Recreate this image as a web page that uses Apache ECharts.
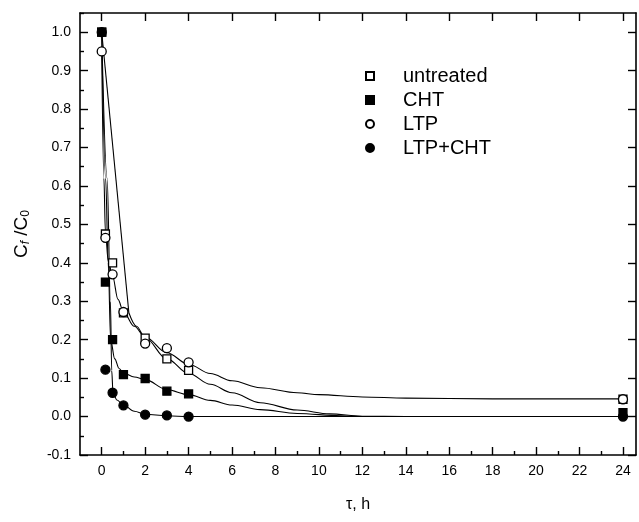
<!DOCTYPE html>
<html>
<head>
<meta charset="utf-8">
<script src="https://cdn.jsdelivr.net/npm/echarts@6/dist/echarts.min.js"></script>
<style>html,body{margin:0;padding:0;background:#fff;}#c{width:639px;height:522px;}</style>
</head>
<body>
<div id="c"></div>
<script>
// measured times (h)
var times = [0, 0.17, 0.5, 1, 2, 3, 4, 24];
// Cf/C0 data points
var untreated = [1.0, 0.475, 0.40, 0.27, 0.204, 0.15, 0.12, 0.045];
var cht       = [1.0, 0.35, 0.20, 0.109, 0.099, 0.066, 0.059, 0.01];
var ltp       = [0.95, 0.465, 0.37, 0.272, 0.19, 0.178, 0.141, 0.045];
var ltpCht    = [1.0, 0.122, 0.062, 0.029, 0.005, 0.003, 0.0, 0.0];

// fitted curves [t, value]
var fitUntreatedSteep = [[0,1.0],[1.25,0.27]];
var fitUntreated = [[1.25,0.27],[1.6,0.235],[2,0.205],[3,0.15],[4,0.112],[5,0.084],[6,0.062],[7.3,0.036],[9,0.017],[10.5,0.007],[12,0.001],[14,0],[24,0]];
var fitLtp = [[0,0.95],[0.1,0.62],[0.17,0.48],[0.3,0.405],[0.5,0.365],[0.75,0.305],[1,0.272],[1.5,0.235],[2,0.207],[3,0.166],[4,0.136],[5,0.112],[6,0.093],[7.3,0.075],[9,0.062],[10,0.057],[12,0.051],[14,0.048],[18,0.046],[24,0.046]];
var fitCht = [[0,1.0],[0.18,0.62],[0.3,0.4],[0.41,0.2],[0.6,0.15],[0.8,0.125],[1,0.113],[1.5,0.103],[2,0.096],[3,0.07],[4,0.057],[5,0.042],[6,0.03],[7.3,0.018],[9,0.008],[11,0.002],[12,0],[24,0]];
var fitLtpCht = [[0,1.0],[0.25,0.62],[0.4,0.3],[0.46,0.12],[0.52,0.062],[0.7,0.043],[1,0.03],[1.5,0.014],[2,0.006],[3,0.002],[4,0.0],[24,0]];

// tick values
var xMajor = [0,2,4,6,8,10,12,14,16,18,20,22,24];
var xMinor = [1,3,5,7,9,11,13,15,17,19,21,23];
var yMajor = [-0.1,0,0.1,0.2,0.3,0.4,0.5,0.6,0.7,0.8,0.9,1.0];
var yMinor = [-0.05,0.05,0.15,0.25,0.35,0.45,0.55,0.65,0.75,0.85,0.95,1.05];

function pts(arr){ return times.map(function(t,i){ return [t, arr[i]]; }); }

var XMIN = -1, XMAX = 24.6, YMIN = -0.1, YMAX = 1.05;
var lineC = '#000';
function xAx(pos, ticks, len, showLine, showLabel){
  return {type:'value', min:XMIN, max:XMAX, position:pos, gridIndex:0,
    axisLine:{show:showLine, onZero:false, lineStyle:{color:lineC, width:1.6}},
    axisTick:{show:true, inside:true, length:len, customValues:ticks, lineStyle:{color:lineC, width:1.4}},
    axisLabel:{show:showLabel, customValues:ticks, color:'#000', fontSize:14, fontFamily:'Liberation Sans, Arial', margin:9},
    splitLine:{show:false}};
}
function yAx(pos, ticks, len, showLine, showLabel){
  return {type:'value', min:YMIN, max:YMAX, position:pos, gridIndex:0,
    axisLine:{show:showLine, onZero:false, lineStyle:{color:lineC, width:1.6}},
    axisTick:{show:true, inside:true, length:len, customValues:ticks, lineStyle:{color:lineC, width:1.4}},
    axisLabel:{show:showLabel, customValues:ticks, color:'#000', fontSize:14, fontFamily:'Liberation Sans, Arial', margin:9,
      formatter:function(v){ return v.toFixed(1); }},
    splitLine:{show:false}};
}
var xAxes = [xAx('bottom', xMajor, 8, true, true), xAx('top', xMajor, 8, true, false), xAx('bottom', xMinor, 4, false, false)];
xAxes[0].name = 'τ, h';
xAxes[0].nameLocation = 'middle';
xAxes[0].nameGap = 42;
xAxes[0].nameTextStyle = {color:'#000', fontSize:16, fontFamily:'Liberation Sans, Arial'};
var yAxes = [yAx('left', yMajor, 8, true, true), yAx('right', yMajor, 8, true, false), yAx('left', yMinor, 4, false, false)];
yAxes[0].name = '{a|C}{s|f}{a| /C}{b|0}';
yAxes[0].nameLocation = 'middle';
yAxes[0].nameGap = 48;
yAxes[0].nameTextStyle = {color:'#000', fontFamily:'Liberation Sans, Arial', rich:{
  a:{fontSize:19, color:'#000', fontFamily:'Liberation Sans, Arial'},
  s:{fontSize:12, color:'#000', fontStyle:'italic', verticalAlign:'bottom', padding:[8,0,0,0], fontFamily:'Liberation Sans, Arial'},
  b:{fontSize:12, color:'#000', verticalAlign:'bottom', padding:[8,0,0,0], fontFamily:'Liberation Sans, Arial'}}};

function fitSeries(d, sm){
  return {type:'line', data:d, symbol:'none', smooth:sm, smoothMonotone:'x', silent:true,
    lineStyle:{color:'#000', width:1.1}, z:2, xAxisIndex:0, yAxisIndex:0};
}
function ptSeries(name, arr, sym, size, filled){
  return {type:'scatter', name:name, data:pts(arr), symbol:sym, symbolSize:size, z:5, xAxisIndex:0, yAxisIndex:0,
    itemStyle:{color: filled ? '#000' : '#fff', borderColor:'#000', borderWidth:1.3, opacity:1}};
}

var option = {
  backgroundColor:'#fff',
  animation:false,
  grid:{left:80, top:13, right:3, bottom:67, containLabel:false},
  xAxis:xAxes,
  yAxis:yAxes,
  legend:{
    orient:'vertical', left:360, top:61, itemGap:4, itemWidth:8, itemHeight:8,
    textStyle:{color:'#000', fontSize:20, fontFamily:'Liberation Sans, Arial', padding:[0,0,0,24]},
    data:[{name:'untreated', icon:'rect'},{name:'CHT', icon:'rect'},{name:'LTP', icon:'circle'},{name:'LTP+CHT', icon:'circle'}],
    selectedMode:false
  },
  series:[
    fitSeries(fitUntreatedSteep, false), fitSeries(fitUntreated, 0.35), fitSeries(fitLtp, 0.35), fitSeries(fitCht, 0.35), fitSeries(fitLtpCht, 0.35),
    ptSeries('untreated', untreated, 'rect', 8, false),
    ptSeries('CHT', cht, 'rect', 8, true),
    ptSeries('LTP', ltp, 'circle', 9, false),
    ptSeries('LTP+CHT', ltpCht, 'circle', 9, true)
  ]
};
var chart = echarts.init(document.getElementById('c'), null, {renderer:'canvas'});
chart.setOption(option);
</script>
</body>
</html>
